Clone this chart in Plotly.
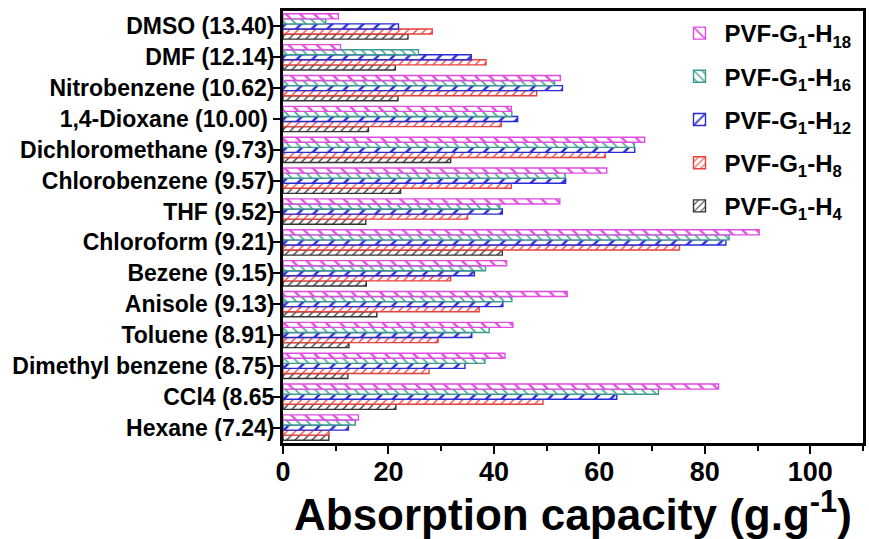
import plotly.graph_objects as go

solvents = ["Hexane (7.24)", "CCl4 (8.65", "Dimethyl benzene (8.75)", "Toluene (8.91)",
            "Anisole (9.13)", "Bezene (9.15)", "Chloroform (9.21)", "THF (9.52)",
            "Chlorobenzene (9.57)", "Dichloromethane (9.73)", "1,4-Dioxane (10.00)\u00a0",
            "Nitrobenzene (10.62)", "DMF (12.14)", "DMSO (13.40)"]

h18 = [14.3, 82.6, 42.1, 43.6, 53.9, 42.4, 90.3, 52.5, 61.4, 68.6, 43.3, 52.6, 10.9, 10.5]
h16 = [13.7, 71.2, 38.3, 39.1, 43.4, 38.4, 84.6, 41.1, 53.5, 66.6, 43.4, 51.5, 25.7, 8.1]
h12 = [12.4, 63.3, 34.5, 35.8, 41.7, 36.3, 84.0, 41.6, 53.6, 66.7, 44.5, 53.0, 35.7, 21.9]
h8 = [8.7, 49.3, 27.7, 29.4, 37.2, 31.8, 75.2, 35.0, 43.3, 61.1, 41.4, 48.1, 38.5, 28.3]
h4 = [8.7, 21.4, 12.3, 12.5, 17.8, 15.8, 41.6, 15.7, 22.3, 31.8, 16.2, 21.8, 21.3, 23.7]

series = [
    ("PVF-G<sub>1</sub>-H<sub>4</sub>", h4, "#333333", "/", 6),
    ("PVF-G<sub>1</sub>-H<sub>8</sub>", h8, "#e8403c", "/", 6),
    ("PVF-G<sub>1</sub>-H<sub>12</sub>", h12, "#2a2ad6", "/", 11),
    ("PVF-G<sub>1</sub>-H<sub>16</sub>", h16, "#3a9a8c", "\\", 7),
    ("PVF-G<sub>1</sub>-H<sub>18</sub>", h18, "#e04ce0", "\\", 10),
]

FONT = "Liberation Sans, Arial, sans-serif"

fig = go.Figure()
n = len(series)
for i, (name, vals, col, shp, sz) in enumerate(series):
    fig.add_trace(go.Bar(
        y=solvents, x=vals, orientation="h", name=name,
        legendgroup=f"g{i}", legendrank=1000 + (n - i),
        marker=dict(color="white",
                    line=dict(color=col, width=1.4),
                    pattern=dict(shape=shp, fgcolor=col, bgcolor="white",
                                 size=sz, solidity=0.22, fillmode="replace")),
    ))

fig.update_layout(
    width=869, height=539,
    margin=dict(l=283, r=3, t=11, b=96),
    paper_bgcolor="white", plot_bgcolor="white",
    barmode="group", bargap=0.18, bargroupgap=0,
    font=dict(family=FONT, color="black"),
    showlegend=True,
    legend=dict(traceorder="grouped", x=0.675, y=1.0, xanchor="left", yanchor="top",
                font=dict(family=FONT, size=24, color="black", weight="bold"),
                bgcolor="rgba(255,255,255,0)", tracegroupgap=9, itemwidth=40),
    xaxis=dict(range=[0, 110], dtick=20, tick0=0, showgrid=False, zeroline=False,
               showline=True, linecolor="black", linewidth=3, mirror=True,
               ticks="outside", ticklen=8, tickwidth=2, tickcolor="black",
               ticklabelstandoff=-5,
               minor=dict(dtick=10, ticks="outside", ticklen=5, tickwidth=2, tickcolor="black"),
               tickfont=dict(family=FONT, size=27, color="black", weight="bold")),
    yaxis=dict(showgrid=False, zeroline=False, showline=True, linecolor="black",
               linewidth=3, mirror=True, ticks="outside", ticklen=7, tickwidth=2,
               tickcolor="black", range=[-0.5, 13.5], ticklabelstandoff=-6,
               tickfont=dict(family=FONT, size=23, color="black", weight="bold")),
)

fig.add_annotation(text="Absorption capacity (g.g<sup>-1</sup>)", xref="paper", yref="paper",
                   x=0.5, y=-98 / 432, xanchor="center", yanchor="bottom", showarrow=False,
                   font=dict(family=FONT, size=44, color="black", weight="bold"))

fig.write_html("out.html")
